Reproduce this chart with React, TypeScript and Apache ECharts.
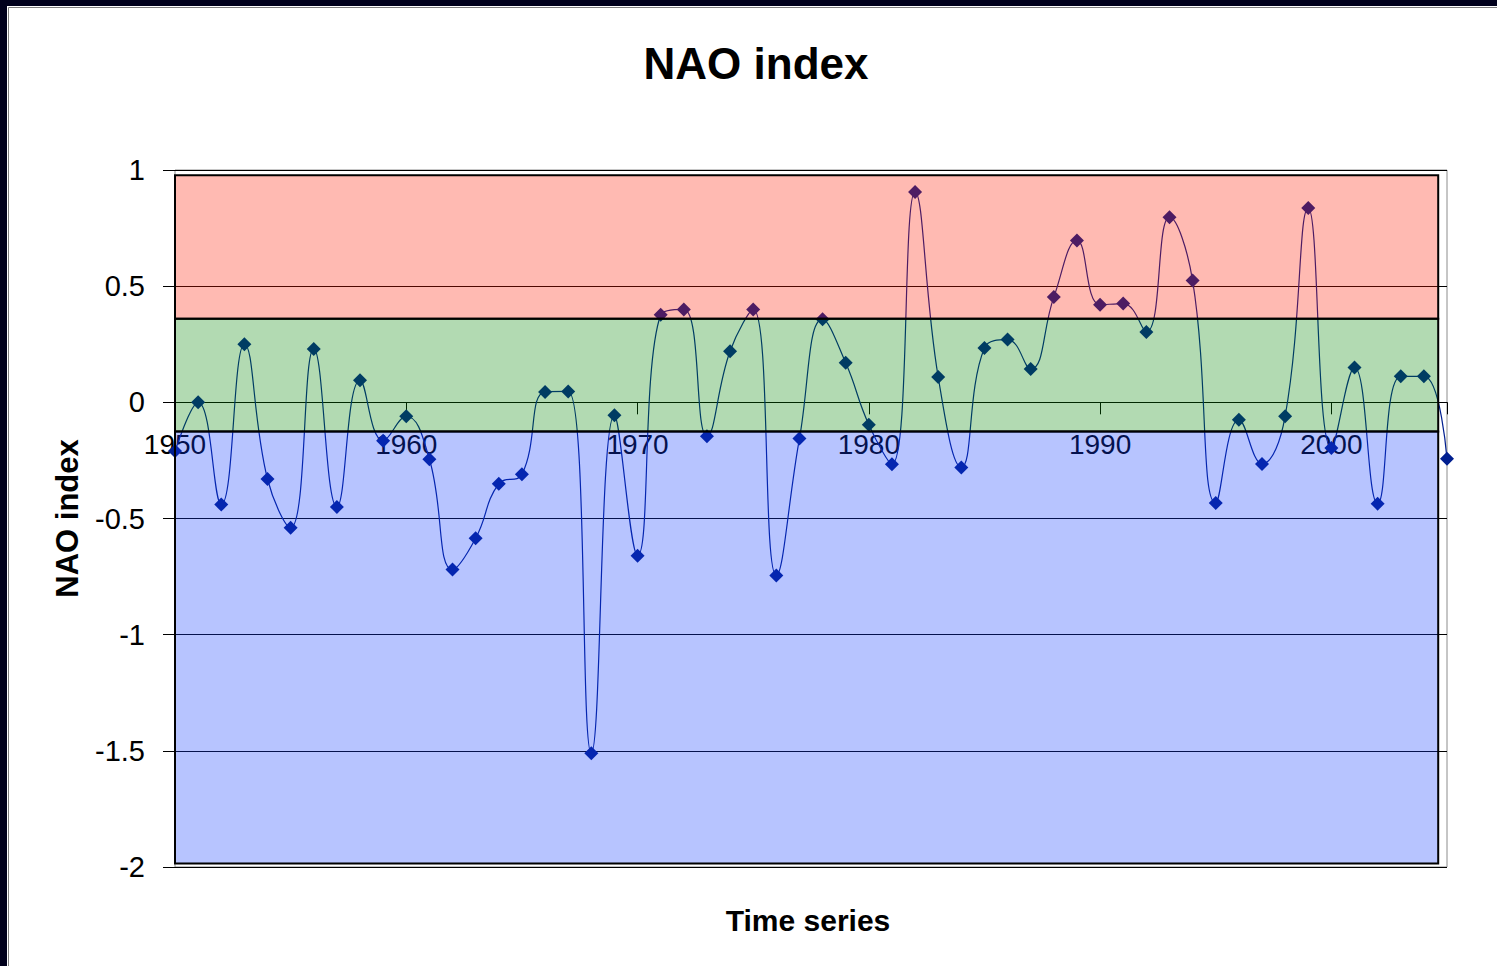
import React, { useEffect, useRef } from "react";
import * as echarts from "echarts";

const YEARS = [
  1950, 1951, 1952, 1953, 1954, 1955, 1956, 1957, 1958, 1959,
  1960, 1961, 1962, 1963, 1964, 1965, 1966, 1967, 1968, 1969,
  1970, 1971, 1972, 1973, 1974, 1975, 1976, 1977, 1978, 1979,
  1980, 1981, 1982, 1983, 1984, 1985, 1986, 1987, 1988, 1989,
  1990, 1991, 1992, 1993, 1994, 1995, 1996, 1997, 1998, 1999,
  2000, 2001, 2002, 2003, 2004, 2005,
];

const NAO = [
  -0.21, 0.0, -0.44, 0.25, -0.33, -0.54, 0.23, -0.45, 0.095, -0.165,
  -0.06, -0.245, -0.72, -0.585, -0.35, -0.31, 0.045, 0.047, -1.51, -0.056,
  -0.66, 0.377, 0.4, -0.146, 0.22, 0.4, -0.745, -0.156, 0.358, 0.17,
  -0.096, -0.267, 0.905, 0.109, -0.28, 0.234, 0.27, 0.143, 0.453, 0.697,
  0.42, 0.425, 0.303, 0.797, 0.524, -0.433, -0.075, -0.265, -0.06, 0.836,
  -0.197, 0.15, -0.436, 0.112, 0.112, -0.243,
];

// Background bands (value ranges)
const BAND_LOW = [0.36, -0.125, -1.985];
const BAND_HIGH = [0.977, 0.36, -0.125];
const BAND_COLORS = [
  "rgba(255,28,0,0.3)",
  "rgba(0,132,0,0.3)",
  "rgba(18,58,255,0.3)",
];
const BAND_X = [1950, 2004.62];

const Y_MIN = -2;
const Y_MAX = 1;
const Y_STEP = 0.5;
const X_MIN = 1950;
const X_MAX = 2005;
const X_STEP = 10;

const FONT = "'Liberation Sans', Arial, Helvetica, sans-serif";

const GRID_TOP = 170;
const GRID_BOTTOM = 99;
const GRID_H = 966 - GRID_TOP - GRID_BOTTOM;

export default function App() {
  const ref = useRef<HTMLDivElement>(null);

  useEffect(() => {
    if (!ref.current) return;
    const chart = echarts.init(ref.current, undefined, { renderer: "svg" });

    const lineData = YEARS.map((y, i) => [y, NAO[i]]);
    const bandData = BAND_LOW.map((lo, i) => [BAND_X[0], lo, BAND_HIGH[i], i]);
    // move the x axis up to the value 0
    const zeroOffset = -(GRID_H * (0 - Y_MIN)) / (Y_MAX - Y_MIN);

    chart.setOption({
      animation: false,
      backgroundColor: "#ffffff",
      title: [
        {
          text: "NAO index",
          left: 751,
          top: 36,
          textAlign: "center",
          textStyle: {
            fontFamily: FONT,
            fontWeight: "bold",
            fontSize: 44,
            color: "#000",
          },
        },
        {
          text: "Time series",
          left: 803,
          top: 900,
          textAlign: "center",
          textStyle: {
            fontFamily: FONT,
            fontWeight: "bold",
            fontSize: 30,
            color: "#000",
          },
        },
      ],
      graphic: [
        { type: "rect", left: 0, top: 0, shape: { width: 1497, height: 6 }, style: { fill: "#00001c" }, z: 100 },
        { type: "rect", left: 0, top: 0, shape: { width: 7, height: 966 }, style: { fill: "#00001c" }, z: 100 },
        { type: "line", shape: { x1: 8.5, y1: 7.5, x2: 1497, y2: 7.5 }, style: { stroke: "#808080", lineWidth: 1 }, z: 100 },
        { type: "line", shape: { x1: 8.5, y1: 7.5, x2: 8.5, y2: 966 }, style: { stroke: "#808080", lineWidth: 1 }, z: 100 },
      ],
      grid: {
        left: 175,
        right: 50,
        top: GRID_TOP,
        bottom: GRID_BOTTOM,
        show: true,
        borderColor: "#8c8c8c",
        borderWidth: 1,
        backgroundColor: "transparent",
      },
      xAxis: {
        type: "value",
        position: "bottom",
        offset: zeroOffset,
        min: X_MIN,
        max: X_MAX,
        interval: X_STEP,
        axisLine: { show: true, onZero: false, lineStyle: { color: "#000", width: 1 } },
        axisTick: { show: true, length: 12, lineStyle: { color: "#000" } },
        splitLine: { show: false },
        axisLabel: {
          margin: 28,
          fontFamily: FONT,
          fontSize: 28,
          color: "#000",
          formatter: (v: number) => (v % 10 === 0 ? String(v) : ""),
        },
      },
      yAxis: {
        type: "value",
        min: Y_MIN,
        max: Y_MAX,
        interval: Y_STEP,
        axisLine: { show: false },
        axisTick: { show: true, length: 12, lineStyle: { color: "#000" } },
        splitLine: {
          show: true,
          lineStyle: { color: "#000", width: 1 },
        },
        axisLabel: {
          margin: 30,
          fontFamily: FONT,
          fontSize: 29,
          color: "#000",
          padding: [0, 0, 4, 0],
        },
        name: "NAO index",
        nameLocation: "middle",
        nameGap: 92,
        nameTextStyle: {
          fontFamily: FONT,
          fontWeight: "bold",
          fontSize: 31,
          color: "#000",
        },
      },
      series: [
        {
          type: "line",
          data: lineData,
          smooth: 0.45,
          symbol: "diamond",
          symbolSize: 14,
          showAllSymbol: true,
          clip: false,
          z: 2,
          itemStyle: { color: "#001e8f" },
          lineStyle: { color: "#001e8f", width: 1.2 },
        },
        {
          type: "custom",
          z: 10,
          silent: true,
          clip: false,
          encode: { x: 0, y: [1, 2] },
          data: bandData,
          renderItem: (params: any, api: any) => {
            const lo = api.value(1);
            const hi = api.value(2);
            const idx = api.value(3);
            const p1 = api.coord([BAND_X[0], hi]);
            const p2 = api.coord([BAND_X[1], lo]);
            return {
              type: "rect",
              shape: {
                x: p1[0],
                y: p1[1],
                width: p2[0] - p1[0],
                height: p2[1] - p1[1],
              },
              style: {
                fill: BAND_COLORS[idx],
                stroke: "#000",
                lineWidth: 2,
              },
            };
          },
        },
      ],
    });

    return () => {
      chart.dispose();
    };
  }, []);

  return (
    <div
      ref={ref}
      style={{
        position: "absolute",
        left: 0,
        top: 0,
        width: 1497,
        height: 966,
      }}
    />
  );
}
